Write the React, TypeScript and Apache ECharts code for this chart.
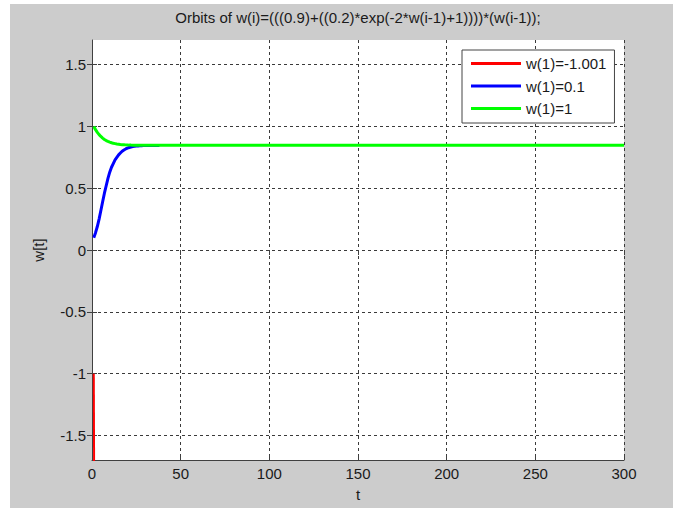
import React, { useEffect, useRef } from "react";
import * as echarts from "echarts";

const titleText = "Orbits of w(i)=(((0.9)+((0.2)*exp(-2*w(i-1)+1))))*(w(i-1));";
const seriesNames = ["w(1)=-1.001", "w(1)=0.1", "w(1)=1"];
const seriesColors = ["#ff0000", "#0000ff", "#00ff00"];

const yTicks = [-1.5, -1, -0.5, 0, 0.5, 1, 1.5];
const yTickLabels = ["-1.5", "-1", "-0.5", "0", "0.5", "1", "1.5"];

// red orbit: diverges immediately below the axis
const redT = [1, 2];
const redW = [-1.001, -4.93];

// blue orbit
const blueT = [
  1, 2, 3, 4, 5, 6, 7, 8, 9, 10, 11, 12, 13, 14, 15, 16, 17, 18, 19, 20,
  21, 22, 23, 24, 25, 26, 27, 28, 29, 30, 31, 32, 33, 34, 35, 36, 37, 38,
];
const blueW = [
  0.1, 0.14, 0.19, 0.25, 0.32, 0.39, 0.46, 0.52, 0.58, 0.63, 0.67, 0.7, 0.73,
  0.75, 0.77, 0.785, 0.8, 0.81, 0.818, 0.825, 0.83, 0.834, 0.837, 0.839, 0.841,
  0.842, 0.843, 0.844, 0.845, 0.845, 0.846, 0.846, 0.846, 0.846, 0.846, 0.846,
  0.846, 0.846,
];

// green orbit
const greenT = [
  1, 2, 3, 4, 5, 6, 7, 8, 9, 10, 11, 12, 13, 14, 15, 16, 17, 18, 19, 20, 21,
  22, 23, 24, 25, 300,
];
const greenW = [
  1.0, 0.974, 0.952, 0.934, 0.919, 0.906, 0.895, 0.886, 0.879, 0.873, 0.868,
  0.864, 0.861, 0.858, 0.856, 0.854, 0.853, 0.852, 0.851, 0.85, 0.849, 0.849,
  0.848, 0.848, 0.848, 0.847,
];

const FONT = "'Liberation Sans', Arial, sans-serif";
const TXT = "#1a1a1a";

export default function App() {
  const ref = useRef<HTMLDivElement>(null);

  useEffect(() => {
    document.body.style.margin = "0";
    if (!ref.current) return;
    const chart = echarts.init(ref.current, undefined, { renderer: "svg" });

    const pair = (ts: number[], ws: number[]) => ts.map((t, i) => [t, ws[i]]);
    const allData = [pair(redT, redW), pair(blueT, blueW), pair(greenT, greenW)];

    const gridLine = {
      show: true,
      lineStyle: { color: "#3a3a3a", width: 1, type: [3, 3] as number[] },
    };

    chart.setOption({
      animation: false,
      backgroundColor: "#cccccc",
      textStyle: { fontFamily: FONT },
      grid: {
        left: 82,
        top: 36,
        width: 532,
        height: 420,
        show: true,
        backgroundColor: "#ffffff",
        borderWidth: 0,
      },
      graphic: [
        {
          type: "text",
          x: 348,
          y: 13,
          style: {
            text: titleText,
            font: `15px ${FONT}`,
            fill: TXT,
            align: "center",
            verticalAlign: "middle",
          },
        },
      ],
      legend: {
        orient: "vertical",
        left: 452,
        top: 46,
        data: seriesNames,
        icon: "rect",
        itemWidth: 50,
        itemHeight: 3,
        itemGap: 7.5,
        padding: [6, 8, 7, 9],
        backgroundColor: "#ffffff",
        borderColor: "#444",
        borderWidth: 1,
        borderRadius: 0,
        textStyle: { fontSize: 15, color: TXT, fontFamily: FONT, lineHeight: 15 },
      },
      xAxis: [
        {
          type: "value",
          min: 0,
          max: 300,
          interval: 50,
          name: "t",
          nameLocation: "middle",
          nameGap: 27,
          nameTextStyle: { fontSize: 15, color: TXT, fontFamily: FONT },
          axisLine: { show: true, onZero: false, lineStyle: { color: "#404040", width: 1 } },
          axisTick: { show: true, inside: true, length: 5, lineStyle: { color: "#404040" } },
          axisLabel: { show: true, margin: 6, fontSize: 15, color: TXT, fontFamily: FONT },
          splitLine: gridLine,
        },
        {
          type: "value",
          position: "top",
          min: 0,
          max: 300,
          interval: 50,
          axisLine: { show: false },
          axisTick: { show: true, inside: true, length: 5, lineStyle: { color: "#404040" } },
          axisLabel: { show: false },
          splitLine: { show: false },
        },
      ],
      yAxis: [
        {
          type: "value",
          min: -1.7,
          max: 1.7,
          name: "w[t]",
          nameLocation: "middle",
          nameRotate: 90,
          nameGap: 46,
          nameTextStyle: { fontSize: 15, color: TXT, fontFamily: FONT },
          axisLine: { show: true, onZero: false, lineStyle: { color: "#404040", width: 1 } },
          axisTick: {
            show: true,
            inside: true,
            length: 5,
            customValues: yTicks,
            lineStyle: { color: "#404040" },
          },
          axisLabel: {
            show: true,
            margin: 6,
            fontSize: 15,
            color: TXT,
            fontFamily: FONT,
            customValues: yTicks,
            formatter: (v: number) => {
              const i = yTicks.findIndex((t) => Math.abs(t - v) < 1e-9);
              return i >= 0 ? yTickLabels[i] : "";
            },
          },
          splitLine: gridLine,
        },
        {
          type: "value",
          position: "right",
          min: -1.7,
          max: 1.7,
          axisLine: { show: false },
          axisTick: {
            show: true,
            inside: true,
            length: 5,
            customValues: yTicks,
            lineStyle: { color: "#404040" },
          },
          axisLabel: { show: false, customValues: yTicks },
          splitLine: { show: false },
        },
      ],
      series: seriesNames.map((name, i) => ({
        name,
        type: "line",
        data: allData[i],
        showSymbol: false,
        symbol: "none",
        color: seriesColors[i],
        lineStyle: { color: seriesColors[i], width: i === 0 ? 2 : 3 },
        clip: true,
      })),
    });

    return () => chart.dispose();
  }, []);

  return (
    <div style={{ position: "relative", width: 673, height: 508, background: "#ffffff" }}>
      <div
        ref={ref}
        style={{ position: "absolute", left: 10, top: 4, width: 663, height: 504 }}
      />
    </div>
  );
}
